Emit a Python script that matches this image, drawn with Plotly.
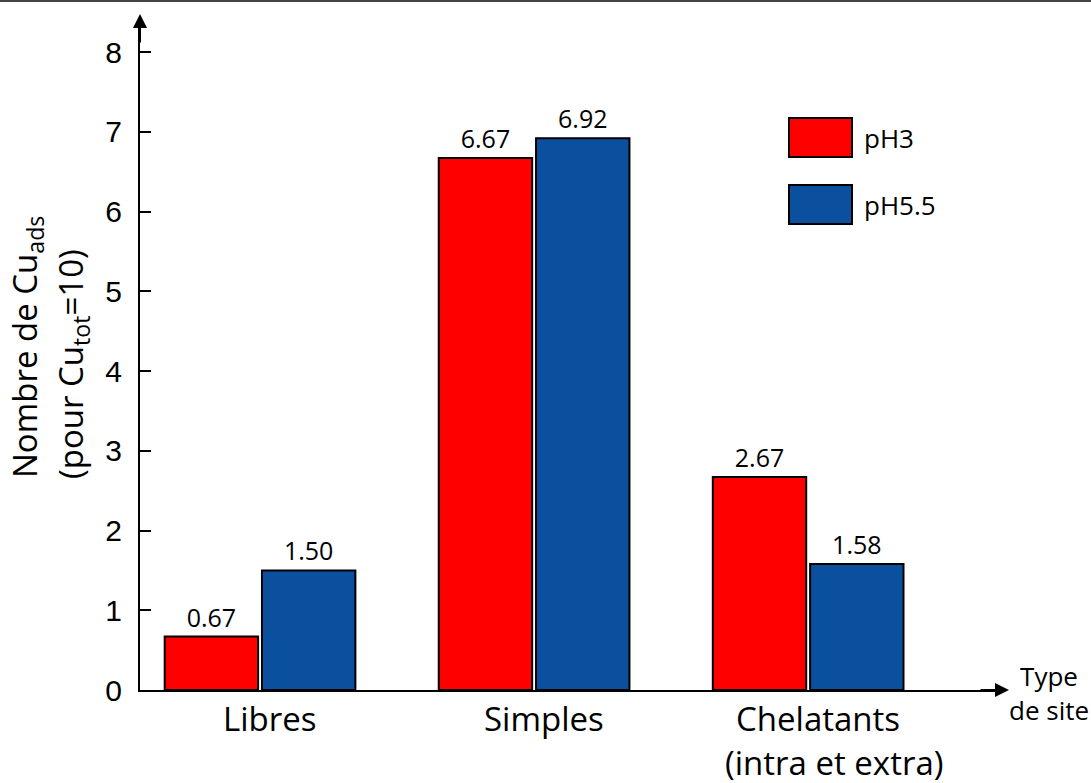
import plotly.graph_objects as go

categories = ["Libres", "Simples", "Chelatants<br>(intra et extra)"]
series_names = ["pH3", "pH5.5"]
ph3_values = [0.67, 6.67, 2.67]
ph55_values = [1.50, 6.92, 1.58]
series_colors = ["#FF0000", "#0B4F9F"]
y_ticks = [0, 1, 2, 3, 4, 5, 6, 7, 8]

W, H = 1091, 783
ML, MR, MT, MB = 140, 91, 20, 93
PW, PH = W - ML - MR, H - MT - MB


def px(x):
    return (x - ML) / PW


def py(y):
    return (H - MB - y) / PH


fig = go.Figure()
for name, vals, col in zip(series_names, [ph3_values, ph55_values], series_colors):
    fig.add_trace(go.Bar(
        x=categories, y=vals, name=name,
        marker=dict(color=col, line=dict(color="black", width=2)),
        texttemplate="%{y:.2f}", textposition="outside",
        textfont=dict(family="Open Sans", size=25, color="black"),
        cliponaxis=False, showlegend=False,
    ))

annotations = []
# category labels
for cat in categories:
    lines = cat.split("<br>")
    offsets = [(10, 718), (26, 762)]
    for i, ln in enumerate(lines):
        annotations.append(dict(
            x=cat, xref="x", y=py(offsets[i][1]), yref="paper",
            text=ln, showarrow=False, xshift=offsets[i][0],
            xanchor="center", yanchor="middle",
            font=dict(family="Open Sans", size=33, color="black"),
        ))

# y axis title (two lines)
annotations.append(dict(
    x=px(26), xref="paper", y=py(480), yref="paper", textangle=-90,
    text="Nombre de Cu<sub>ads</sub>", showarrow=False,
    xanchor="center", yanchor="bottom",
    font=dict(family="Open Sans", size=33, color="black"),
))
annotations.append(dict(
    x=px(72), xref="paper", y=py(481), yref="paper", textangle=-90,
    text="(pour Cu<sub>tot</sub>=10)", showarrow=False,
    xanchor="center", yanchor="bottom",
    font=dict(family="Open Sans", size=33, color="black"),
))

# x axis title
annotations.append(dict(
    x=px(1049), xref="paper", y=py(693), yref="paper",
    text="Type<br>de site", showarrow=False, align="center",
    xanchor="center", yanchor="middle",
    font=dict(family="Open Sans", size=26, color="black"),
))

# axis arrowheads
annotations.append(dict(
    x=px(1009), xref="paper", y=0, yref="paper", ax=-30, ay=0,
    text="", showarrow=True, arrowhead=2, arrowsize=1.4, arrowwidth=2,
    arrowcolor="black",
))
annotations.append(dict(
    x=0, xref="paper", y=py(14), yref="paper", ax=0, ay=30,
    text="", showarrow=True, arrowhead=2, arrowsize=1.4, arrowwidth=2,
    arrowcolor="black",
))

# legend (custom)
shapes = []
leg_rows = [(118, 157), (185, 224)]
for name, col, (t, b) in zip(series_names, series_colors, leg_rows):
    shapes.append(dict(
        type="rect", xref="paper", yref="paper",
        x0=px(789), x1=px(852), y0=py(b), y1=py(t),
        fillcolor=col, line=dict(color="black", width=2),
    ))
    annotations.append(dict(
        x=px(862), xref="paper", y=py((t + b) / 2), yref="paper",
        text=name, showarrow=False, xanchor="left", yanchor="middle",
        font=dict(family="Open Sans", size=26, color="black"),
    ))

# top border
shapes.append(dict(
    type="line", xref="paper", yref="paper",
    x0=px(0), x1=px(W), y0=py(1), y1=py(1),
    line=dict(color="#444444", width=2),
))

fig.update_layout(
    width=W, height=H,
    margin=dict(l=ML, r=MR, t=MT, b=MB),
    paper_bgcolor="white", plot_bgcolor="white",
    barmode="group", bargap=0.29, bargroupgap=0.04,
    annotations=annotations, shapes=shapes,
    showlegend=False,
)
fig.update_xaxes(
    type="category", range=[-0.438, 2.70],
    showline=True, linecolor="black", linewidth=2,
    showticklabels=False, ticks="", showgrid=False, zeroline=False,
)
fig.update_yaxes(
    range=[0, PH / 79.75],
    tickvals=y_ticks, ticktext=[str(v) for v in y_ticks],
    showline=True, linecolor="black", linewidth=2,
    ticks="inside", ticklen=11, tickwidth=2, tickcolor="black",
    ticklabelstandoff=10,
    tickfont=dict(family="Liberation Sans", size=30, color="black"),
    showgrid=False, zeroline=False,
)

fig.write_html(
    "out.html",
    config={"displayModeBar": False},
    post_script="document.body.style.margin='0';document.body.style.overflow='hidden';",
)
